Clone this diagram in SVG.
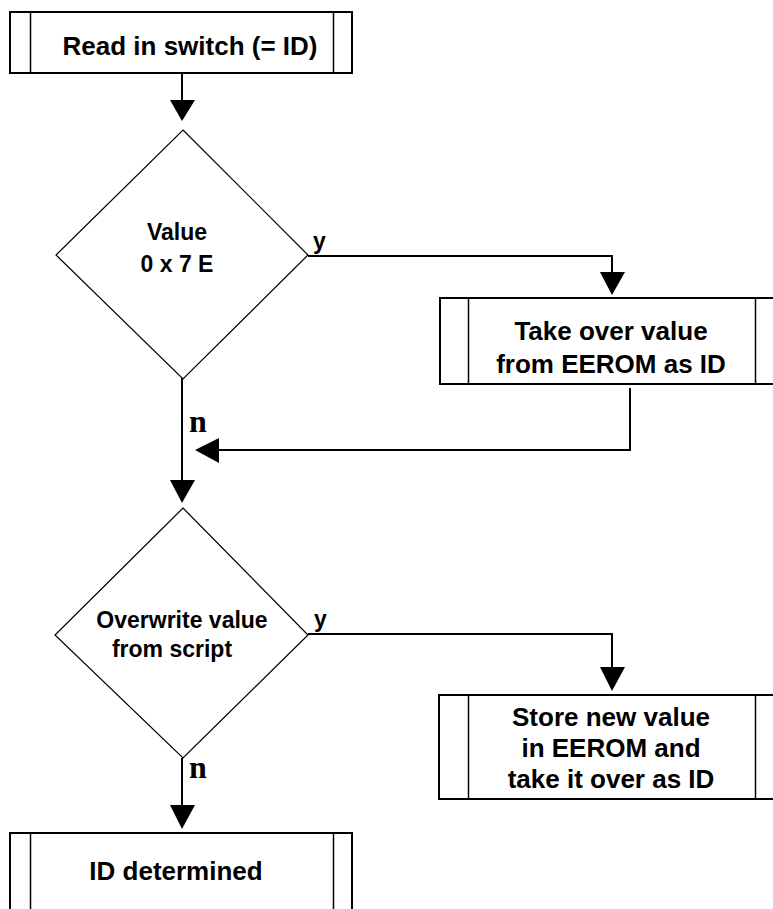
<svg xmlns="http://www.w3.org/2000/svg" width="773" height="909" viewBox="0 0 773 909">
<style>
.box{fill:#fff;stroke:#000;stroke-width:2}
.inner{stroke:#000;stroke-width:1.5}
.dia{fill:#fff;stroke:#000;stroke-width:1.2}
.t{font-family:"Liberation Sans",Arial,sans-serif;font-weight:bold;font-size:26px;fill:#000;text-anchor:middle}
.d{font-family:"Liberation Sans",Arial,sans-serif;font-weight:bold;font-size:23px;fill:#000;text-anchor:middle}
.y{font-family:"Liberation Sans",Arial,sans-serif;font-weight:bold;font-size:23px;fill:#000}
.n{font-family:"Liberation Serif","Times New Roman",serif;font-weight:bold;font-size:32px;fill:#000}
.c{fill:none;stroke:#000;stroke-width:2}
.ah{fill:#000}
</style>
<rect width="773" height="909" fill="#fff"/>
<g id="connectors">
<line class="c" x1="182" y1="73" x2="182" y2="104"/>
<polygon class="ah" points="170,100 195,100 182,121"/>
<polyline class="c" points="308,256 612,256 612,276"/>
<polygon class="ah" points="600,272 625,272 612,295"/>
<polyline class="c" points="630,388 630,450 215,450"/>
<polygon class="ah" points="195,450 219,438 219,463"/>
<line class="c" x1="182" y1="378" x2="182" y2="484"/>
<polygon class="ah" points="170,480 195,480 182,503"/>
<polyline class="c" points="308,634 612,634 612,672"/>
<polygon class="ah" points="600,667 625,667 612,691"/>
<line class="c" x1="182" y1="758" x2="182" y2="810"/>
<polygon class="ah" points="170,805 195,805 182,829"/>
<text class="y" x="313" y="249">y</text>
<text class="n" x="189" y="432">n</text>
<text class="y" x="314" y="627">y</text>
<text class="n" x="189" y="778">n</text>
</g>
<g id="read-switch">
<rect class="box" x="10" y="12" width="342" height="61"/>
<line class="inner" x1="30.5" y1="12" x2="30.5" y2="73"/>
<line class="inner" x1="333.5" y1="12" x2="333.5" y2="73"/>
<text class="t" x="190" y="55">Read in switch (= ID)</text>
</g>
<g id="value-check">
<polygon class="dia" points="183,130 308,255 183,379 56,255"/>
<text class="d" x="177" y="240">Value</text>
<text class="d" x="177" y="272">0 x 7 E</text>
</g>
<g id="take-over">
<rect class="box" x="440" y="298" width="345" height="86"/>
<line class="inner" x1="468.5" y1="298" x2="468.5" y2="384"/>
<line class="inner" x1="755.5" y1="298" x2="755.5" y2="384"/>
<text class="t" x="611" y="340">Take over value</text>
<text class="t" x="611" y="373">from EEROM as ID</text>
</g>
<g id="overwrite-check">
<polygon class="dia" points="183,508 308,635 183,758 55,635"/>
<text class="d" x="182" y="628">Overwrite value</text>
<text class="d" x="172" y="657">from script</text>
</g>
<g id="store-new">
<rect class="box" x="439" y="695" width="346" height="104"/>
<line class="inner" x1="468.5" y1="695" x2="468.5" y2="799"/>
<line class="inner" x1="755.5" y1="695" x2="755.5" y2="799"/>
<text class="t" x="611" y="726">Store new value</text>
<text class="t" x="611" y="757">in EEROM and</text>
<text class="t" x="611" y="788">take it over as ID</text>
</g>
<g id="id-determined">
<rect class="box" x="10" y="833" width="342" height="100"/>
<line class="inner" x1="30.5" y1="833" x2="30.5" y2="933"/>
<line class="inner" x1="333.5" y1="833" x2="333.5" y2="933"/>
<text class="t" x="176" y="880">ID determined</text>
</g>
</svg>
